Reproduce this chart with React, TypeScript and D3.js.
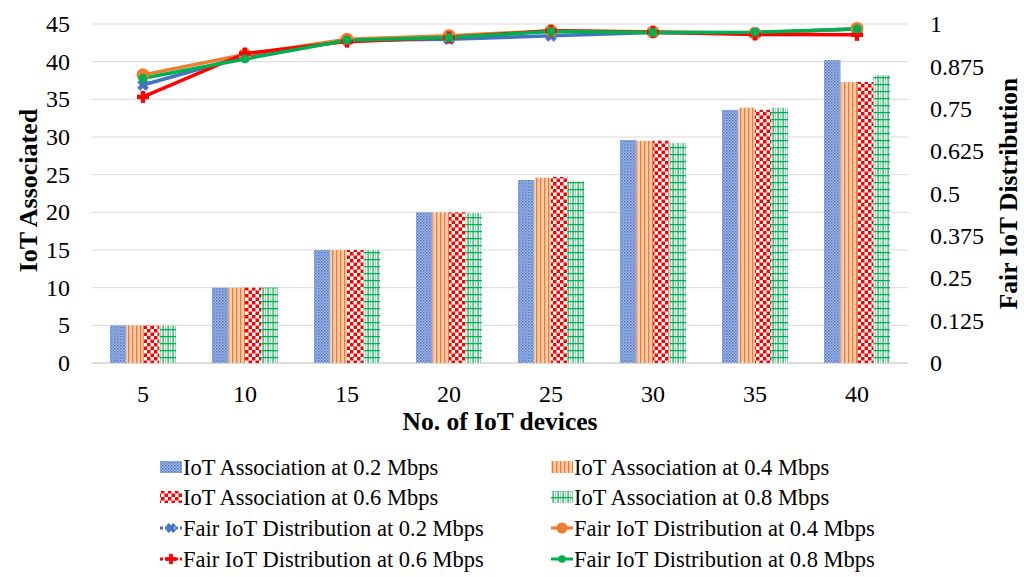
import React from "react";
import * as d3 from "d3";

const categories = ["5", "10", "15", "20", "25", "30", "35", "40"];
const barSeriesNames = [
  "IoT Association at 0.2 Mbps",
  "IoT Association at 0.4 Mbps",
  "IoT Association at 0.6 Mbps",
  "IoT Association at 0.8 Mbps",
];
const assoc02 = [5, 10, 15, 20, 24.3, 29.6, 33.6, 40.2];
const assoc04 = [5, 10, 15, 20, 24.6, 29.5, 33.9, 37.3];
const assoc06 = [5, 10, 15, 20, 24.7, 29.5, 33.6, 37.3];
const assoc08 = [5, 10, 15, 19.9, 24.1, 29.2, 33.9, 38.2];

const lineSeriesNames = [
  "Fair IoT Distribution at 0.2 Mbps",
  "Fair IoT Distribution at 0.4 Mbps",
  "Fair IoT Distribution at 0.6 Mbps",
  "Fair IoT Distribution at 0.8 Mbps",
];
const fair02 = [0.82, 0.905, 0.952, 0.955, 0.965, 0.975, 0.974, 0.985];
const fair04 = [0.85, 0.91, 0.955, 0.965, 0.98, 0.977, 0.972, 0.987];
const fair06 = [0.785, 0.913, 0.948, 0.96, 0.98, 0.976, 0.969, 0.968];
const fair08 = [0.84, 0.897, 0.952, 0.96, 0.978, 0.975, 0.976, 0.985];

const leftTicks = [0, 5, 10, 15, 20, 25, 30, 35, 40, 45];
const rightTicks = [0, 0.125, 0.25, 0.375, 0.5, 0.625, 0.75, 0.875, 1];

const W = 1024;
const H = 577;
const M = { left: 92, right: 908, top: 24, bottom: 363 };
const FONT = '"Liberation Serif", "DejaVu Serif", serif';
const TS: React.CSSProperties = { fontFamily: FONT };

const lineColors = ["#4472C4", "#ED7D31", "#FF0000", "#00B050"];

function Patterns() {
  return (
    <defs>
      <pattern id="p0" width="3" height="3" patternUnits="userSpaceOnUse">
        <rect width="3" height="3" fill="#A9BCE6" />
        <rect width="1.5" height="1.5" fill="#4472C4" />
        <rect x="1.5" y="1.5" width="1.5" height="1.5" fill="#6C8ED3" />
      </pattern>
      <pattern id="p1" width="4" height="4" patternUnits="userSpaceOnUse">
        <rect width="4" height="4" fill="#F9CDAE" />
        <rect width="1.3" height="4" fill="#ED7D31" />
      </pattern>
      <pattern id="p2" width="7" height="7" patternUnits="userSpaceOnUse">
        <rect width="7" height="7" fill="#ffffff" />
        <rect width="3.5" height="3.5" fill="#FF0000" />
        <rect x="3.5" y="3.5" width="3.5" height="3.5" fill="#FF0000" />
      </pattern>
      <pattern id="p3" width="5" height="7" patternUnits="userSpaceOnUse">
        <rect width="5" height="7" fill="#ffffff" />
        <rect width="1" height="7" fill="#9BD9B5" />
        <rect x="2.5" width="1.2" height="7" fill="#00B050" />
        <rect y="0" width="5" height="1.3" fill="#00B050" />
      </pattern>
    </defs>
  );
}

function Marker({ kind, x, y, color, size = 1 }: { kind: number; x: number; y: number; color: string; size?: number }) {
  const s = size;
  if (kind === 0) {
    return (
      <g transform={`translate(${x},${y}) rotate(45)`}>
        <rect x={-6 * s} y={-2.2 * s} width={12 * s} height={4.4 * s} fill={color} />
        <rect x={-2.2 * s} y={-6 * s} width={4.4 * s} height={12 * s} fill={color} />
      </g>
    );
  }
  if (kind === 1) return <circle cx={x} cy={y} r={6.5 * s} fill={color} />;
  if (kind === 2) {
    return (
      <g transform={`translate(${x},${y})`}>
        <rect x={-6 * s} y={-2.2 * s} width={12 * s} height={4.4 * s} fill={color} />
        <rect x={-2.2 * s} y={-6 * s} width={4.4 * s} height={12 * s} fill={color} />
      </g>
    );
  }
  return <circle cx={x} cy={y} r={4.5 * s} fill={color} />;
}

export default function App() {
  const x = d3.scaleBand().domain(categories).range([M.left, M.right]).paddingInner(0).paddingOuter(0);
  const yL = d3.scaleLinear().domain([0, 45]).range([M.bottom, M.top]);
  const yR = d3.scaleLinear().domain([0, 1]).range([M.bottom, M.top]);
  const groupW = 66;
  const xs = d3.scaleBand().domain(["0", "1", "2", "3"]).range([0, groupW]);
  const bars = [assoc02, assoc04, assoc06, assoc08];
  const lines = [fair02, fair04, fair06, fair08];
  const cx = (c: string) => (x(c) as number) + x.bandwidth() / 2;
  const lineGen = d3
    .line<number>()
    .x((_, i) => cx(categories[i]))
    .y((d) => yR(d));

  const legendRows = [467, 497, 528, 559];
  const legendCols = [160, 551];
  const legendItems = [
    { type: "bar", i: 0 },
    { type: "bar", i: 1 },
    { type: "bar", i: 2 },
    { type: "bar", i: 3 },
    { type: "line", i: 0 },
    { type: "line", i: 1 },
    { type: "line", i: 2 },
    { type: "line", i: 3 },
  ];
  const midY = (M.top + M.bottom) / 2;

  return (
    <svg width={W} height={H} style={{ position: "absolute", left: 0, top: 0, background: "#fff", fontFamily: FONT }}>
      <Patterns />
      {leftTicks.map((t) => (
        <line key={t} x1={M.left} x2={M.right} y1={yL(t)} y2={yL(t)} stroke={t === 0 ? "#d0d0d0" : "#d9d9d9"} strokeWidth={t === 0 ? 1.5 : 1} />
      ))}
      {bars.map((vals, si) =>
        vals.map((v, ci) => {
          const c = categories[ci];
          const bx = cx(c) - groupW / 2 + (xs(String(si)) as number);
          return (
            <rect key={`${si}-${ci}`} x={bx} y={yL(v)} width={xs.bandwidth()} height={yL(0) - yL(v)} fill={`url(#p${si})`} />
          );
        })
      )}
      {lines.map((vals, si) => (
        <path key={si} d={lineGen(vals) || ""} fill="none" stroke={lineColors[si]} strokeWidth={3.5} strokeLinejoin="round" />
      ))}
      {lines.map((vals, si) =>
        vals.map((v, ci) => <Marker key={`${si}-${ci}`} kind={si} x={cx(categories[ci])} y={yR(v)} color={lineColors[si]} />)
      )}
      {leftTicks.map((t) => (
        <text key={t} style={TS} x={70} y={yL(t)} dy="0.34em" textAnchor="end" fontSize={24} fill="#000">
          {t}
        </text>
      ))}
      {rightTicks.map((t) => (
        <text key={t} style={TS} x={930} y={yR(t)} dy="0.34em" textAnchor="start" fontSize={24} fill="#000">
          {String(t)}
        </text>
      ))}
      {categories.map((c) => (
        <text key={c} style={TS} x={cx(c)} y={402} textAnchor="middle" fontSize={24} fill="#000">
          {c}
        </text>
      ))}
      <text style={TS} x={500} y={430} textAnchor="middle" fontSize={25.5} fontWeight="bold">
        No. of IoT devices
      </text>
      <text style={TS} transform={`translate(37,${midY - 3}) rotate(-90)`} textAnchor="middle" fontSize={26} fontWeight="bold">
        IoT Associated
      </text>
      <text style={TS} transform={`translate(1017,${midY}) rotate(-90)`} textAnchor="middle" fontSize={25.5} fontWeight="bold">
        Fair IoT Distribution
      </text>
      {legendItems.map((it, k) => {
        const col = legendCols[k % 2];
        const row = legendRows[Math.floor(k / 2)];
        const name = it.type === "bar" ? barSeriesNames[it.i] : lineSeriesNames[it.i];
        return (
          <g key={k}>
            {it.type === "bar" ? (
              <rect x={col} y={row - 6} width={22} height={12} fill={`url(#p${it.i})`} />
            ) : (
              <g>
                <line
                  x1={col}
                  x2={col + 22}
                  y1={row}
                  y2={row}
                  stroke={lineColors[it.i]}
                  strokeWidth={3}
                  strokeDasharray={it.i === 0 || it.i === 2 ? "3 2" : undefined}
                />
                <Marker kind={it.i} x={col + 11} y={row} color={lineColors[it.i]} size={0.85} />
              </g>
            )}
            <text style={TS} x={col + 23} y={row} dy="0.34em" fontSize={22.5} fill="#000">
              {name}
            </text>
          </g>
        );
      })}
    </svg>
  );
}
